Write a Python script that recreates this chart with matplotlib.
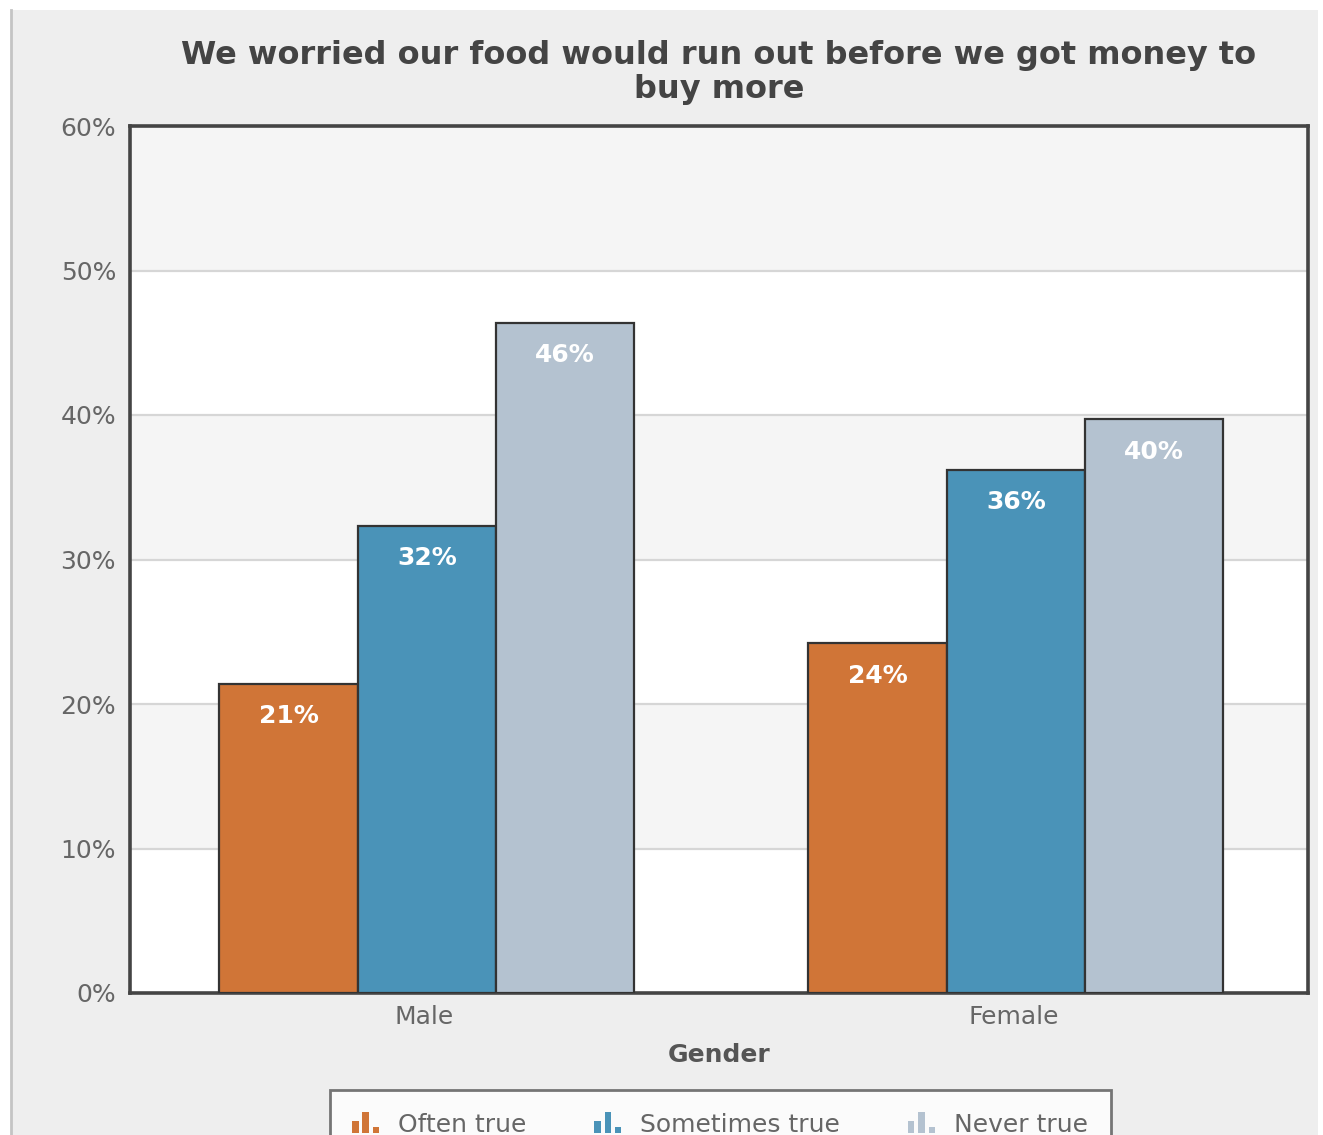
import matplotlib
matplotlib.use("Agg")
import matplotlib.pyplot as plt
from matplotlib.patches import Rectangle
from matplotlib.legend_handler import HandlerBase
import numpy as np

categories = ["Male", "Female"]
series_names = ["Often true", "Sometimes true", "Never true"]
often = [21.4, 24.2]
sometimes = [32.3, 36.2]
never = [46.4, 39.7]
colors = ["#d07537", "#4a93b8", "#b4c2d0"]
yticks = [0, 10, 20, 30, 40, 50, 60]
title = "We worried our food would run out before we got money to\nbuy more"

W, H = 1323, 1135
fig = plt.figure(figsize=(W / 100, H / 100), dpi=100)
fig.patch.set_facecolor("white")
fig.add_artist(Rectangle((12 / W, 0), (1318 - 12) / W, 1 - 10 / H,
                         transform=fig.transFigure, facecolor="#eeeeee",
                         edgecolor="none", zorder=-10))
fig.add_artist(plt.Line2D([11 / W, 11 / W], [0, 1 - 10 / H], transform=fig.transFigure,
                          color="#c4c4c4", lw=2, zorder=-9))

left, right, top, bottom = 130, 1308, 126, 993
ax = fig.add_axes([left / W, 1 - bottom / H, (right - left) / W, (bottom - top) / H])
ax.set_facecolor("white")
ax.set_xlim(-0.5, 1.5)
ax.set_ylim(0, 60)

for lo in [10, 30, 50]:
    ax.axhspan(lo, lo + 10, color="#f5f5f5", zorder=0, lw=0)
for y in yticks[1:-1]:
    ax.axhline(y, color="#d6d6d6", lw=1.6, zorder=1)

x = np.arange(len(categories))
bw = 0.235
all_series = [often, sometimes, never]
for i, (vals, c) in enumerate(zip(all_series, colors)):
    pos = x + (i - 1) * bw + 0.004
    ax.bar(pos, vals, width=bw, color=c, edgecolor="#333333", linewidth=1.6, zorder=3)
    for p, v in zip(pos, vals):
        ax.text(p, v - 1.4, f"{round(v):d}%", ha="center", va="top", color="white",
                fontsize=18, fontweight="bold", zorder=4)

for s in ax.spines.values():
    s.set_color("#444444")
    s.set_linewidth(2.6)

ax.set_yticks(yticks)
ax.set_yticklabels([f"{t}%" for t in yticks], fontsize=18, color="#666666")
ax.set_xticks(x)
ax.set_xticklabels(categories, fontsize=18, color="#666666")
ax.tick_params(axis="both", length=0)
ax.tick_params(axis="y", pad=10)
ax.tick_params(axis="x", pad=9)
ax.set_xlabel("Gender", fontsize=18, fontweight="bold", color="#555555", labelpad=10)
ax.set_title(title, fontsize=23, fontweight="bold", color="#444444", pad=20,
             linespacing=1.15)


class BarIconHandler(HandlerBase):
    def __init__(self, color):
        super().__init__()
        self.color = color

    def create_artists(self, legend, orig_handle, xdescent, ydescent, width, height,
                       fontsize, trans):
        arts = []
        heights = [0.6, 1.05, 0.3]
        bwid = width * 0.2
        gap = width * 0.12
        x0 = -xdescent
        for k, hh in enumerate(heights):
            r = Rectangle((x0 + k * (bwid + gap), -ydescent - height * 0.1), bwid,
                          height * 1.15 * hh,
                          facecolor=self.color, edgecolor="none", transform=trans)
            arts.append(r)
        return arts


handles = [Rectangle((0, 0), 1, 1, color=c) for c in colors]
hmap = {h: BarIconHandler(c) for h, c in zip(handles, colors)}
leg = fig.legend(handles, series_names, loc="upper center",
                 bbox_to_anchor=(720 / W, 1 - 1090 / H), ncol=3, fontsize=18,
                 frameon=True, fancybox=False, handler_map=hmap,
                 handlelength=1.3, handletextpad=0.55, columnspacing=2.7,
                 borderpad=0.9, borderaxespad=0)
leg.get_frame().set_edgecolor("#555555")
leg.get_frame().set_linewidth(2)
leg.get_frame().set_facecolor("white")
for t in leg.get_texts():
    t.set_color("#666666")

fig.savefig("out.png", dpi=100, facecolor=fig.get_facecolor())
